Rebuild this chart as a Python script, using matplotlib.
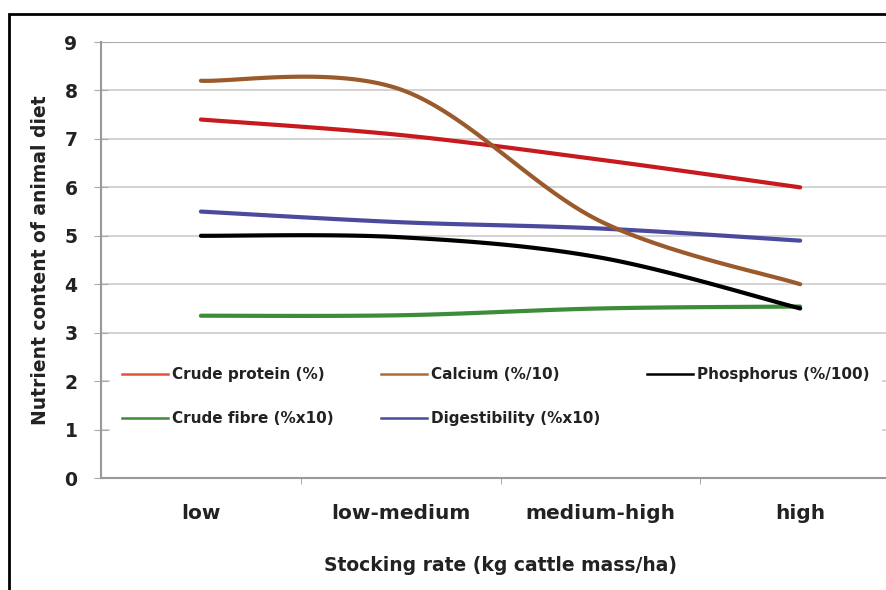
import numpy as np
import matplotlib.pyplot as plt
from matplotlib.patches import Rectangle

plt.rcParams['font.family'] = ['DejaVu Sans']
plt.rcParams['font.weight'] = 'bold'

categorias = ["low", "low-medium", "medium-high", "high"]
crude_protein = [7.4, 7.08, 6.57, 6.0]
calcium = [8.2, 8.02, 5.3, 4.0]
phosphorus = [5.0, 4.97, 4.55, 3.5]
crude_fibre = [3.35, 3.36, 3.5, 3.54]
digestibility = [5.5, 5.28, 5.15, 4.9]

series = [
    ("Crude protein (%)", crude_protein, "#c8191e", "#e0553a"),
    ("Calcium (%/10)", calcium, "#9b5a2c", "#b06a3a"),
    ("Phosphorus (%/100)", phosphorus, "#000000", "#000000"),
    ("Crude fibre (%x10)", crude_fibre, "#3d8c3a", "#3d8c3a"),
    ("Digestibility (%x10)", digestibility, "#4b4a9c", "#4b4a9c"),
]


def suavizar(xs, ys, n=40):
    # curva tipo Excel: Bezier cubica con tangentes de Catmull-Rom
    xs = np.asarray(xs, float)
    ys = np.asarray(ys, float)
    px, py = [], []
    m = len(xs)
    for i in range(m - 1):
        x0, y0 = (xs[i - 1], ys[i - 1]) if i > 0 else (xs[i], ys[i])
        x3, y3 = (xs[i + 2], ys[i + 2]) if i + 2 < m else (xs[i + 1], ys[i + 1])
        c1x = xs[i] + (xs[i + 1] - x0) / 6
        c1y = ys[i] + (ys[i + 1] - y0) / 6
        c2x = xs[i + 1] - (x3 - xs[i]) / 6
        c2y = ys[i + 1] - (y3 - ys[i]) / 6
        t = np.linspace(0, 1, n)
        bx = (1 - t)**3 * xs[i] + 3 * (1 - t)**2 * t * c1x + 3 * (1 - t) * t**2 * c2x + t**3 * xs[i + 1]
        by = (1 - t)**3 * ys[i] + 3 * (1 - t)**2 * t * c1y + 3 * (1 - t) * t**2 * c2y + t**3 * ys[i + 1]
        px.extend(bx)
        py.extend(by)
    return np.array(px), np.array(py)


fig = plt.figure(figsize=(8.87, 5.9), dpi=100)
ax = fig.add_axes([0.1139, 0.1898, 0.9008, 0.739])

x = np.arange(len(categorias))
orden = [3, 4, 2, 0, 1]
for k in orden:
    nombre, valores, color, _ = series[k]
    sx, sy = suavizar(x, valores)
    ax.plot(sx, sy, color=color, lw=3, solid_capstyle='round', zorder=3)

ax.set_xlim(-0.5, 3.5)
ax.set_ylim(0, 9)
ax.set_yticks(range(10))
ax.yaxis.grid(True, color="#cccccc", lw=1.2)
ax.axhline(9, color="#aaaaaa", lw=1.5, zorder=1)
ax.set_axisbelow(True)
ax.set_xticks(x)
ax.set_xticklabels(categorias, fontsize=14.5, fontweight='bold', color="#222222")
ax.set_xticks([0.5, 1.5, 2.5], minor=True)
ax.tick_params(axis='x', which='major', length=0, pad=19)
ax.tick_params(axis='x', which='minor', length=4, color="#999999")
ax.tick_params(axis='y', length=10, direction='inout', color="#aaaaaa",
               labelsize=13.5, pad=12, labelcolor="#222222")
for lab in ax.get_yticklabels():
    lab.set_fontweight('bold')
for s in ["top", "right"]:
    ax.spines[s].set_visible(False)
for s in ["left", "bottom"]:
    ax.spines[s].set_color("#999999")
    ax.spines[s].set_linewidth(1.5)

ax.set_ylabel("Nutrient content of animal diet", fontsize=13.5, fontweight='bold',
              color="#222222", labelpad=10)
ax.set_xlabel("Stocking rate (kg cattle mass/ha)", fontsize=13.5, fontweight='bold',
              color="#222222")
ax.xaxis.set_label_coords(0.5, -0.18)

# orden por columnas para que las filas queden como en el original
idx = [0, 3, 1, 4, 2]
manijas = [plt.Line2D([], [], color=series[i][3], lw=1.8) for i in idx]
etiquetas = [series[i][0] for i in idx]
leg = ax.legend(manijas, etiquetas, ncol=3, mode='expand', loc='center left',
                bbox_to_anchor=(0.011, 0.187, 0.966, 0), frameon=True,
                facecolor='white', edgecolor='none', framealpha=1,
                prop={'weight': 'bold', 'size': 11}, handlelength=3.0,
                handletextpad=0.25, borderpad=0.8, labelspacing=1.9,
                borderaxespad=0)
leg.get_frame().set_boxstyle('square', pad=0)
for t in leg.get_texts():
    t.set_color("#222222")

fig.patches.append(Rectangle((9 / 887, -0.1), 1.2, 1 - 14 / 590 + 0.1,
                             transform=fig.transFigure, fill=False,
                             edgecolor="black", lw=2))

fig.savefig("out.png", dpi=100)
